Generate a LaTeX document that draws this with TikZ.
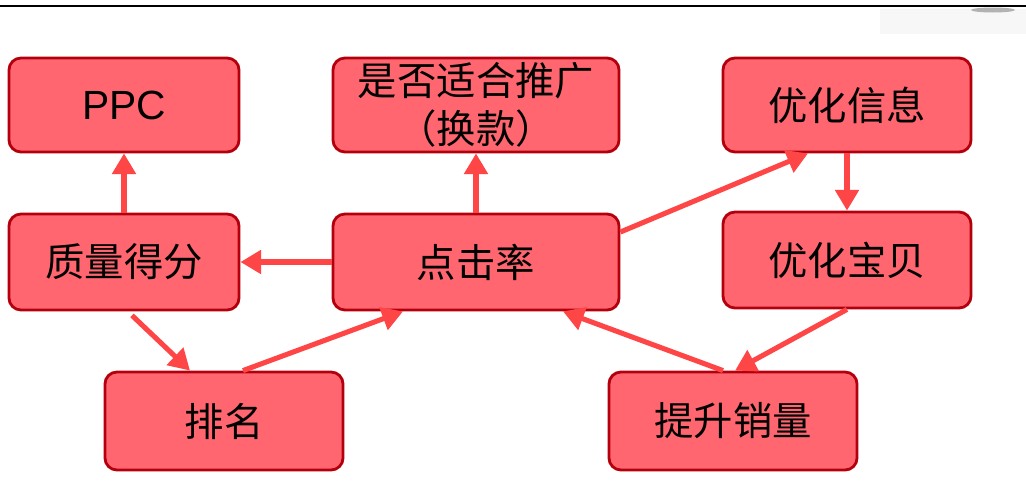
\documentclass[tikz,border=0pt]{standalone}
\usepackage{fontspec}
\setmainfont{Liberation Sans}
\newfontfamily\cjk{Noto Sans CJK SC}
\usetikzlibrary{arrows.meta,calc}
\definecolor{cBox}{HTML}{FF6670}
\definecolor{cEdge}{HTML}{B4000C}
\definecolor{cArrow}{HTML}{FF4646}
\tikzset{
  card/.style={rectangle, rounded corners=0.3cm, draw=cEdge, line width=2pt,
    fill=cBox, align=center, text=black, inner sep=2pt,
    font=\cjk\fontsize{28}{34}\selectfont},
  flow/.style={-{Triangle[length=0.52cm,width=0.58cm]}, line width=3.6pt, cArrow},
}
\begin{document}
\begin{tikzpicture}[x=0.025cm, y=-0.025cm]
\useasboundingbox[fill=white] (0,0) rectangle (1026,500);
% top rule and smudge
\fill[black!3] (880,9) rectangle (1026,34);
\fill[black!30] (993,10) ellipse (22 and 2.5);
\draw[black, line width=2pt] (0,6) -- (1026,6);
% boxes
\node[card, minimum width=5.75cm, minimum height=2.35cm] (ppc) at (124,105)
  {\fontspec{Liberation Sans}\fontsize{29}{34}\selectfont PPC};
\node[card, minimum width=7.15cm, minimum height=2.35cm] (promo) at (476,105)
  {是否适合推广\\（换款）};
\node[card, minimum width=6.2cm, minimum height=2.35cm] (info) at (847,105)
  {优化信息};
\node[card, minimum width=5.75cm, minimum height=2.4cm] (score) at (124,262)
  {质量得分};
\node[card, minimum width=7.15cm, minimum height=2.4cm] (ctr) at (476,262)
  {点击率};
\node[card, minimum width=6.2cm, minimum height=2.4cm] (item) at (847,260)
  {优化宝贝};
\node[card, minimum width=5.95cm, minimum height=2.45cm] (rank) at (224,421)
  {排名};
\node[card, minimum width=6.2cm, minimum height=2.45cm] (sales) at (733,421)
  {提升销量};
% arrows
\draw[flow] (score.north) -- (ppc.south);
\draw[flow] (ctr.north) -- (promo.south);
\draw[flow] (ctr.west) -- (score.east);
\draw[flow] ($(ctr.east)+(0,-30)$) -- ($(info.south)+(-39,0)$);
\draw[flow] (info.south) -- (item.north);
\draw[flow] (item.south) -- ($(sales.north)+(2,0)$);
\draw[flow] ($(sales.north)+(-10,0)$) -- ($(ctr.south)+(87,0)$);
\draw[flow] ($(score.south)+(8,4)$) -- ($(rank.north)+(-34,0)$);
\draw[flow] ($(rank.north)+(19,0)$) -- ($(ctr.south)+(-73,0)$);
\end{tikzpicture}
\end{document}
